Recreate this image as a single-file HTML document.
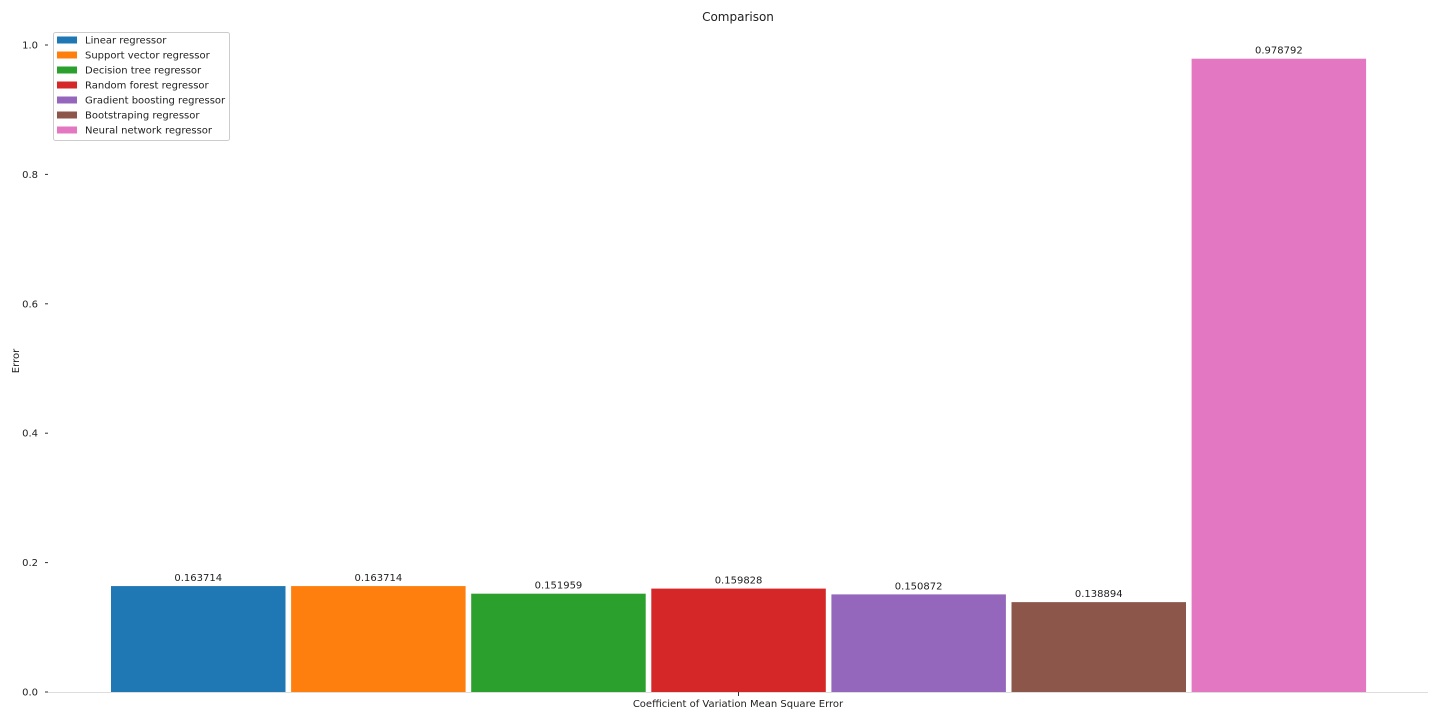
<!DOCTYPE html>
<html><head><meta charset="utf-8"><style>
body{margin:0;background:#fff;font-family:"Liberation Sans","DejaVu Sans",sans-serif}
svg text{font-family:"DejaVu Sans","Liberation Sans",sans-serif;fill:#222}
</style></head><body>
<svg id="chart" width="1440" height="720">
<text x="738" y="21" font-size="12" text-anchor="middle">Comparison</text>
<text x="19" y="361" font-size="10" text-anchor="middle" transform="rotate(-90 19 361)">Error</text>
<line x1="48" y1="692.5" x2="1428" y2="692.5" stroke="#ddd" stroke-width="1"/>
<g id="yticks"></g>
<g id="bars"></g>
<line x1="738.5" y1="692" x2="738.5" y2="696" stroke="#333"/>
<text x="738" y="707" font-size="10" text-anchor="middle">Coefficient of Variation Mean Square Error</text>
<g id="legend">
<rect x="53.5" y="32.5" width="176" height="108" rx="2" fill="#fff" stroke="#ccc"/>
</g>
</svg>
<script>
const categories=["Linear regressor","Support vector regressor","Decision tree regressor","Random forest regressor","Gradient boosting regressor","Bootstraping regressor","Neural network regressor"];
const values=[0.163714,0.163714,0.151959,0.159828,0.150872,0.138894,0.978792];
const labels=["0.163714","0.163714","0.151959","0.159828","0.150872","0.138894","0.978792"];
const colors=["#1f77b4","#ff7f0e","#2ca02c","#d62728","#9467bd","#8c564b","#e377c2"];
const yTicks=[0,0.2,0.4,0.6,0.8,1.0];
const yTickLabels=["0.0","0.2","0.4","0.6","0.8","1.0"];
const NS="http://www.w3.org/2000/svg";
const y=v=>692-v*647;
const x=i=>111+i*180.1;
const bw=174.5;
function mk(t,a,p){const e=document.createElementNS(NS,t);for(const k in a)e.setAttribute(k,a[k]);p.appendChild(e);return e;}
const yg=document.getElementById('yticks');
yTicks.forEach((v,i)=>{
 const l=mk('line',{x1:45,x2:48,y1:y(v),y2:y(v),stroke:'#333'},yg);
 
 
 const t=mk('text',{x:38,y:y(v)+3.5,'font-size':10,'text-anchor':'end'},yg);
 t.textContent=yTickLabels[i];
 
 
});
const bg=document.getElementById('bars');
values.forEach((v,i)=>{
 const r=mk('rect',{x:x(i),y:y(v),width:bw,height:692-y(v),fill:colors[i]},bg);
 
 
 const t=mk('text',{x:x(i)+bw/2,y:y(v)-5,'font-size':10,'text-anchor':'middle'},bg);
 t.textContent=labels[i];
 
 
});
const lg=document.getElementById('legend');
categories.forEach((c,i)=>{
 const yy=40+i*15;
 const r=mk('rect',{x:57,y:yy-3.5,width:20,height:7,fill:colors[i]},lg);
 
 
 const t=mk('text',{x:85,y:yy+3.5,'font-size':10},lg);
 t.textContent=c;
 
 
});
</script>
</body></html>
